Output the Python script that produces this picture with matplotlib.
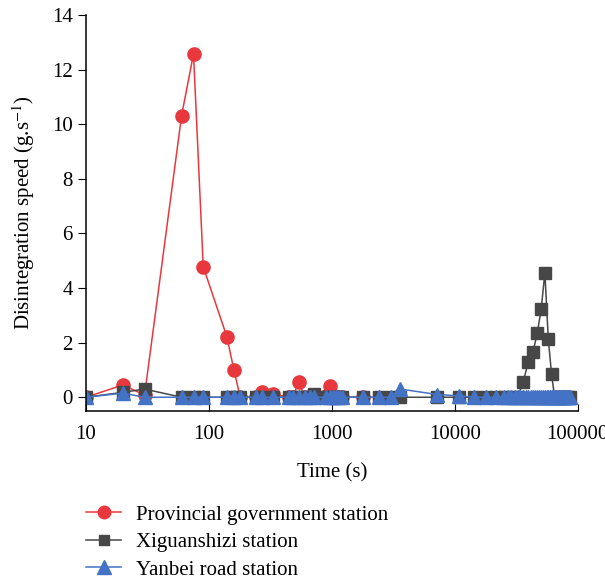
import numpy as np
import matplotlib
matplotlib.use("Agg")
import matplotlib.pyplot as plt

plt.rcParams['font.family'] = ['Liberation Serif', 'DejaVu Serif']
plt.rcParams['mathtext.fontset'] = 'stix'

# -- data ---------------------------------------------------------
t_prov = [10, 20, 30, 60, 75, 90, 140, 160, 180, 240, 270, 330, 450, 480,
          540, 600, 660, 720, 900, 960, 1020, 1080, 1140, 1200, 1800]
v_prov = [0, 0.45, 0.08, 10.32, 12.58, 4.78, 2.22, 0.99, 0, 0, 0.2, 0.12, 0, 0,
          0.56, 0, 0, 0, 0.05, 0.41, 0, 0, 0, 0, 0]

t_xig = [10, 20, 30, 60, 75, 90, 140, 160, 180, 240, 270, 330, 450, 480,
         540, 600, 660, 720, 900, 960, 1020, 1080, 1140, 1200, 1800, 2400,
         3000, 3600, 7200, 10800, 14400, 18000, 21600, 25200, 28800, 32400,
         36000, 39600, 43200, 46800, 50400, 54000, 57600, 61200, 64800,
         68400, 72000, 75600, 79200, 82800, 86400]
v_xig = [0, 0.18, 0.3, 0, 0, 0, 0, 0, 0, 0, 0, 0, 0, 0,
         0, 0, 0, 0.13, 0, 0, 0, 0, 0, 0, 0, 0,
         0, 0, 0, 0, 0, 0, 0, 0, 0, 0,
         0.57, 1.29, 1.66, 2.34, 3.23, 4.56, 2.12, 0.85, 0,
         0, 0, 0, 0, 0, 0]

t_yan = [10, 20, 30, 60, 75, 90, 140, 160, 180, 240, 270, 330, 450, 480,
         540, 600, 660, 720, 900, 960, 1020, 1080, 1140, 1200, 1800, 2400,
         3000, 3600, 7200, 10800, 14400, 18000, 21600, 25200, 27000, 28800,
         30600, 32400, 34200, 36000, 37800, 39600, 41400, 43200, 45000,
         46800, 48600, 50400, 52200, 54000, 55800, 57600, 59400, 61200,
         63000, 64800, 66600, 68400, 70200, 72000, 73800, 75600, 77400,
         79200, 81000, 82800, 84600, 86400]
v_yan = [0, 0.15, 0, 0, 0, 0, 0, 0, 0, 0, 0, 0, 0, 0,
         0, 0, 0, 0, 0, 0, 0, 0, 0, 0, 0, 0,
         0, 0.3, 0.1, 0.05] + [0] * 38

labels = ['Provincial government station', 'Xiguanshizi station',
          'Yanbei road station']

# -- plot ---------------------------------------------------------
fig = plt.figure(figsize=(6.05, 5.82), dpi=100)
ax = fig.add_axes([0.142, 0.294, 0.813, 0.68])

ax.plot(t_prov, v_prov, color='#E8383D', marker='o', ms=9.5, lw=1.1,
        label=labels[0])
ax.plot(t_xig, v_xig, color='#474747', marker='s', ms=8, lw=1.1,
        label=labels[1])
ax.plot(t_yan, v_yan, color='#4472C4', marker='^', ms=10.5, lw=1.1,
        label=labels[2])

ax.set_xscale('log')
ax.set_xlim(10, 100000)
ax.set_ylim(-0.5, 14)
ax.set_xticks([10, 100, 1000, 10000, 100000],
              ['10', '100', '1000', '10000', '100000'])
ax.xaxis.set_minor_locator(matplotlib.ticker.NullLocator())
ax.set_yticks(range(0, 15, 2))
ax.spines['top'].set_visible(False)
ax.spines['right'].set_visible(False)
ax.spines['left'].set_bounds(-0.5, 14)
ax.tick_params(axis='x', direction='in', length=5, labelsize=15, pad=10)
ax.tick_params(axis='y', direction='out', length=6, labelsize=15)
for sp in ax.spines.values():
    sp.set_linewidth(1.1)

ax.set_xlabel('Time (s)', fontsize=15, labelpad=14)
ax.set_ylabel('Disintegration speed (g.s$^{-1}$)', fontsize=15, labelpad=11)

fig.legend(loc='upper left', bbox_to_anchor=(0.125, 0.15), frameon=False,
           fontsize=15, handlelength=1.7, labelspacing=0.38, borderpad=0,
           handletextpad=0.7, markerscale=0.95)

fig.savefig('out.png', dpi=100)
